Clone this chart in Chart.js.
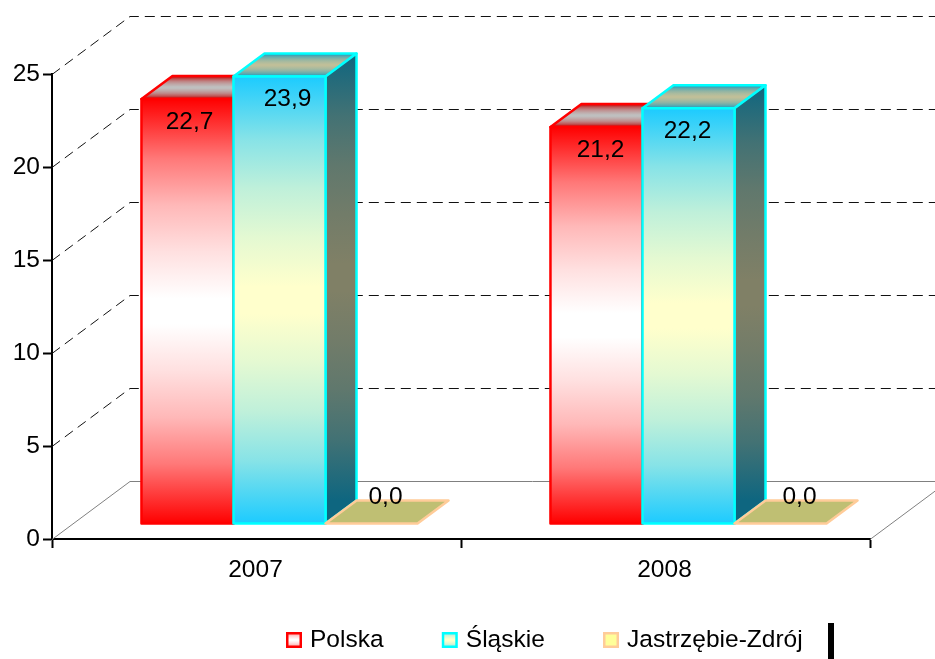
<!DOCTYPE html>
<html>
<head>
<meta charset="utf-8">
<title>Chart</title>
<script src="https://cdn.jsdelivr.net/npm/chart.js@4"></script>
<style>
  html, body { margin: 0; padding: 0; background: #fff; }
  canvas { display: block; }
</style>
</head>
<body>
<canvas id="chart" width="935" height="659"></canvas>
<script>
const years = ['2007', '2008'];
const polska = [22.7, 21.2];
const slaskie = [23.9, 22.2];
const jastrzebie = [0.0, 0.0];

// depth of the fake 3d: whole floor, and one bar
const wallDX = 78, wallDY = 58;
const barDX = 31, barDY = 23;
const shiftX = 23, shiftY = -15.5;

const fontFamily = '"Liberation Sans", Arial, sans-serif';
const fontSize = 24.5;

const looks = [
  { edge: '#ff0000', outer: [255, 0, 0], inner: [255, 255, 255] },
  { edge: '#00ffff', outer: [28, 203, 255], inner: [255, 255, 204] },
  { edge: '#ffcc99', outer: [255, 255, 153], inner: [255, 255, 153] }
];

// how the bar fill blends from outer to inner colour
const rampPos = [0, 0.14, 0.25, 0.36, 0.47, 0.53, 0.64, 0.75, 0.86, 1];
const rampMix = [0, 0.47, 0.72, 0.88, 1, 1, 0.88, 0.72, 0.47, 0];

// small hand nudges for the value labels, [series][year]
const labelNudge = [[2, 4], [8, -1], [14, 19]];

// legend: native box is only a spacer, swatches are painted afterwards
const legendSpacer = 30;
const legendPadding = 40;

function blend(look, m, k) {
  const c = look.outer.map(function (o, i) {
    return Math.round((o + (look.inner[i] - o) * m) * k);
  });
  return 'rgb(' + c.join(',') + ')';
}

function gradient(ctx, y0, y1, look, k) {
  const g = ctx.createLinearGradient(0, y0, 0, y1);
  rampPos.forEach(function (p, i) {
    g.addColorStop(p, blend(look, rampMix[i], k));
  });
  return g;
}

function poly(ctx, pts) {
  ctx.beginPath();
  ctx.moveTo(pts[0][0], pts[0][1]);
  for (let i = 1; i < pts.length; i++) ctx.lineTo(pts[i][0], pts[i][1]);
  ctx.closePath();
}

function frontFill(i) {
  return function (c) {
    if (c.type !== 'data' || !c.parsed) return looks[i].edge;
    const sc = c.chart.scales.yBars;
    return gradient(c.chart.ctx, sc.getPixelForValue(c.parsed.y), sc.getPixelForValue(0), looks[i], 1);
  };
}

function drawWalls(chart) {
  const ctx = chart.ctx;
  const y = chart.scales.y;
  const x0 = chart.chartArea.left, x1 = chart.chartArea.right;
  const right = chart.width;
  ctx.save();
  ctx.lineWidth = 1;
  y.ticks.forEach(function (t) {
    const py = Math.round(y.getPixelForValue(t.value)) + 0.5;
    const back = py - wallDY;
    if (t.value === 0) {
      ctx.setLineDash([]);
      ctx.strokeStyle = '#808080';
      ctx.beginPath();
      ctx.moveTo(x0, py);
      ctx.lineTo(x0 + wallDX, back);
      ctx.lineTo(right, back);
      ctx.moveTo(x1, py);
      ctx.lineTo(x1 + wallDX, back);
      ctx.stroke();
    } else {
      ctx.setLineDash([10, 6]);
      ctx.strokeStyle = '#111';
      ctx.beginPath();
      ctx.moveTo(x0, py);
      ctx.lineTo(x0 + wallDX, back);
      ctx.lineTo(right, back);
      ctx.stroke();
    }
  });
  ctx.restore();
}

function drawBar(ctx, el, look) {
  const l = el.x - el.width / 2, r = el.x + el.width / 2;
  const t = el.y, b = el.base;
  ctx.lineWidth = 2.5;
  ctx.lineJoin = 'round';
  ctx.strokeStyle = look.edge;

  // top face
  poly(ctx, [[l, t], [r, t], [r + barDX, t - barDY], [l + barDX, t - barDY]]);
  ctx.fillStyle = gradient(ctx, t - barDY, t, look, 0.75);
  ctx.fill();
  ctx.stroke();

  // side face and front
  if (b - t > 1) {
    poly(ctx, [[r, t], [r + barDX, t - barDY], [r + barDX, b - barDY], [r, b]]);
    ctx.fillStyle = gradient(ctx, t - barDY, b - barDY, look, 0.5);
    ctx.fill();
    ctx.stroke();
    el.draw(ctx);
    ctx.strokeRect(l, t, r - l, b - t);
  }
}

const boxes3d = {
  id: 'boxes3d',
  afterLayout(chart) {
    // legend sits off-centre in the original
    const lg = chart.legend;
    const newLeft = 310 - legendSpacer - fontSize / 2 - legendPadding;
    const dx = newLeft - lg.left;
    lg.left = newLeft;
    lg.right = newLeft + lg.width;
    lg.top = 640 - legendPadding - fontSize / 2;
    lg.bottom = lg.top + lg.height;
    lg.legendHitBoxes.forEach(function (h) { h.left += dx; });
  },
  beforeDatasetsDraw(chart) {
    const ctx = chart.ctx;
    drawWalls(chart);
    ctx.save();
    ctx.translate(shiftX, shiftY);
    chart.data.datasets.forEach(function (ds, i) {
      chart.getDatasetMeta(i).data.forEach(function (el) {
        drawBar(ctx, el, looks[i]);
      });
    });
    // value labels
    ctx.fillStyle = '#000';
    ctx.font = fontSize + 'px ' + fontFamily;
    ctx.textAlign = 'center';
    ctx.textBaseline = 'middle';
    chart.data.datasets.forEach(function (ds, i) {
      chart.getDatasetMeta(i).data.forEach(function (el, j) {
        const v = ds.data[j];
        const txt = v.toFixed(1).replace('.', ',');
        const y = v > 0 ? el.y + 23 : el.y - 26;
        ctx.fillText(txt, el.x + labelNudge[i][j], y);
      });
    });
    ctx.restore();
    return false;
  },
  afterDraw(chart) {
    const ctx = chart.ctx;
    chart.legend.legendHitBoxes.forEach(function (h, i) {
      const bx = h.left + legendSpacer + fontSize / 2 - 24;
      const by = 632;
      ctx.save();
      ctx.fillStyle = looks[i].edge;
      ctx.fillRect(bx, by, 16, 16);
      ctx.fillStyle = gradient(ctx, by - 3, by + 19, looks[i], 1);
      ctx.fillRect(bx + 2.5, by + 2.5, 11, 11);
      ctx.restore();
    });
    // black stub right of the legend
    ctx.fillStyle = '#000';
    ctx.fillRect(828, 623, 6, 36);
  }
};

Chart.defaults.font.family = fontFamily;
Chart.defaults.font.size = fontSize;
Chart.defaults.color = '#000';

new Chart(document.getElementById('chart'), {
  type: 'bar',
  data: {
    labels: years,
    datasets: [
      { label: 'Polska', data: polska, backgroundColor: frontFill(0) },
      { label: 'Śląskie', data: slaskie, backgroundColor: frontFill(1) },
      { label: 'Jastrzębie-Zdrój', data: jastrzebie, backgroundColor: frontFill(2) }
    ].map(function (d) {
      d.yAxisID = 'yBars';
      d.categoryPercentage = 0.675;
      d.barPercentage = 1;
      d.borderWidth = 0;
      return d;
    })
  },
  options: {
    responsive: false,
    animation: false,
    layout: { padding: { top: 74, right: 65, left: 0, bottom: 0 } },
    plugins: {
      tooltip: { enabled: false },
      legend: {
        position: 'bottom',
        align: 'start',
        labels: {
          boxWidth: legendSpacer,
          padding: legendPadding,
          font: { size: fontSize },
          generateLabels(chart) {
            return chart.data.datasets.map(function (d, i) {
              return { text: d.label, fillStyle: 'transparent', strokeStyle: 'transparent', lineWidth: 0, datasetIndex: i };
            });
          }
        }
      }
    },
    scales: {
      x: {
        grid: { drawOnChartArea: false, tickLength: 9, tickColor: '#000', tickWidth: 2 },
        border: { color: '#000', width: 2 },
        ticks: { padding: 8, labelOffset: -1, maxRotation: 0, font: { size: fontSize } },
        afterFit(s) { s.height = 120 - (fontSize + legendPadding + 10); }
      },
      y: {
        min: 0,
        max: 25,
        grid: { drawOnChartArea: false, tickLength: 9, tickColor: '#000', tickWidth: 2 },
        border: { color: '#000', width: 2 },
        ticks: { stepSize: 5, padding: 3, font: { size: fontSize } },
        afterFit(s) { s.width = 52; }
      },
      yBars: { display: false, min: 0, max: 24.866 }
    }
  },
  plugins: [boxes3d]
});
</script>
</body>
</html>
